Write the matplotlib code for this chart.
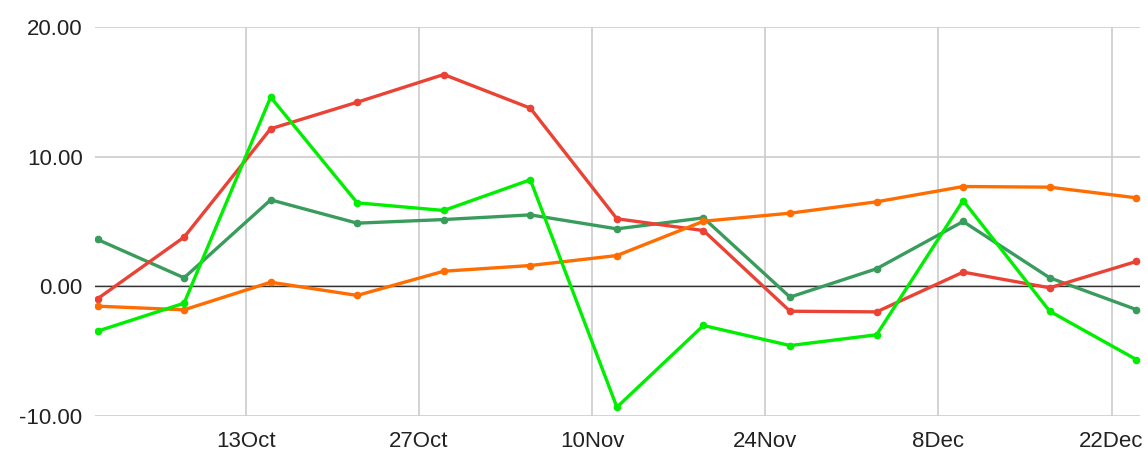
import matplotlib.pyplot as plt
import matplotlib.dates as mdates
import pandas as pd

# Data (weekly)
dates = pd.date_range('2023-10-01', periods=13, freq='7D')
dark_green = [3.63, 0.67, 6.69, 4.89, 5.17, 5.53, 4.45, 5.30, -0.82, 1.37, 5.02, 0.67, -1.78]
red = [-0.95, 3.81, 12.18, 14.23, 16.37, 13.77, 5.23, 4.32, -1.91, -1.96, 1.11, -0.10, 1.93]
orange = [-1.52, -1.80, 0.33, -0.69, 1.18, 1.62, 2.39, 5.04, 5.66, 6.54, 7.72, 7.67, 6.85]
bright_green = [-3.45, -1.29, 14.62, 6.46, 5.87, 8.24, -9.32, -3.01, -4.56, -3.73, 6.64, -1.91, -5.64]
tick_dates = pd.date_range('2023-10-13', periods=6, freq='14D')
y_ticks = [-10, 0, 10, 20]

plt.rcParams['font.family'] = ['Liberation Sans', 'DejaVu Sans']

fig = plt.figure(figsize=(11.48, 4.53), dpi=100)
ax = fig.add_axes([0.0828, 0.0817, 0.9102, 0.8576])

series = [
    (dark_green, '#3a9c5c'),
    (red, '#ea4335'),
    (orange, '#ff6d01'),
    (bright_green, '#00ee00'),
]
for vals, col in series:
    ax.plot(dates, vals, color=col, lw=2.4, marker='o', ms=4.5, zorder=3)

ax.axhline(0, color='#333333', lw=1.0, zorder=2)

ax.set_ylim(-10, 20)
ax.set_xlim(dates[0] - pd.Timedelta(days=0.2), dates[-1] + pd.Timedelta(days=0.3))
ax.set_yticks(y_ticks)
ax.set_yticklabels([f'{v:.2f}' for v in y_ticks])
ax.set_xticks(tick_dates)
ax.set_xticklabels([f'{d.day}{d.strftime("%b")}' for d in tick_dates])

ax.grid(True, color='#cccccc', lw=1.2, zorder=0)
ax.set_axisbelow(True)
for s in ax.spines.values():
    s.set_visible(False)
ax.tick_params(length=0, labelsize=16, colors='#222222')
ax.tick_params(axis='y', pad=9)
ax.tick_params(axis='x', pad=11)

fig.savefig('out.png', dpi=100)
